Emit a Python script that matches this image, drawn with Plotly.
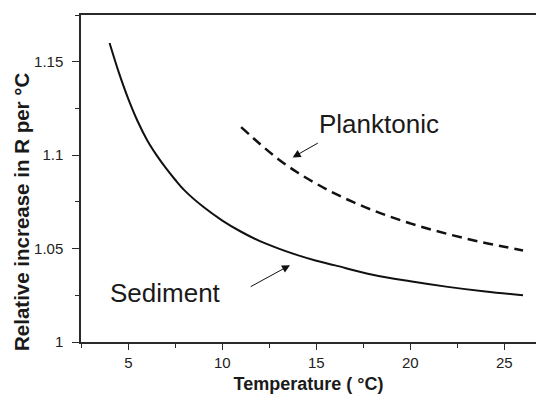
import plotly.graph_objects as go

# Data
sediment_t = [4, 4.5, 5, 5.5, 6, 6.5, 7, 7.5, 8, 9, 10, 11, 12, 13, 14, 15, 16, 18, 20, 22, 24, 26]
sediment_r = [1.160, 1.144, 1.130, 1.118, 1.108, 1.100, 1.093, 1.0867, 1.081, 1.0722, 1.065,
              1.059, 1.054, 1.050, 1.0465, 1.0435, 1.041, 1.036, 1.0325, 1.0295, 1.027, 1.025]

plank_t = [11, 12, 13, 14, 15, 16, 17, 18, 19, 20, 21, 22, 23, 24, 25, 26]
plank_r = [1.115, 1.106, 1.0977, 1.0907, 1.0847, 1.0794, 1.0747, 1.0705, 1.0668, 1.0635,
           1.0605, 1.0578, 1.0553, 1.053, 1.051, 1.049]

x_ticks = [5, 10, 15, 20, 25]
y_ticks = [1, 1.05, 1.1, 1.15]
y_labels = ["1", "1.05", "1.1", "1.15"]

FONT = "Liberation Sans, Arial, sans-serif"
AX = "#2a2a2a"

fig = go.Figure()
fig.add_trace(go.Scatter(x=sediment_t, y=sediment_r, mode="lines",
                         line=dict(color="#111111", width=2, shape="spline"),
                         showlegend=False, hoverinfo="skip"))
fig.add_trace(go.Scatter(x=plank_t, y=plank_r, mode="lines",
                         line=dict(color="#111111", width=2.5, shape="spline", dash="10px,6px"),
                         showlegend=False, hoverinfo="skip"))

# text labels
fig.add_annotation(x=18.33, y=1.1167, xref="x", yref="y", text="Planktonic",
                   showarrow=False, font=dict(family=FONT, size=26, color="#1a1a1a"))
fig.add_annotation(x=6.95, y=1.0261, xref="x", yref="y", text="Sediment",
                   showarrow=False, font=dict(family=FONT, size=26, color="#1a1a1a"))
# arrows
fig.add_annotation(x=13.74, y=1.0988, ax=15.16, ay=1.1069, xref="x", yref="y",
                   axref="x", ayref="y", text="", showarrow=True, arrowhead=2,
                   arrowsize=1.6, arrowwidth=1, arrowcolor="#111111", standoff=0)
fig.add_annotation(x=13.6, y=1.0411, ax=11.43, ay=1.0292, xref="x", yref="y",
                   axref="x", ayref="y", text="", showarrow=True, arrowhead=2,
                   arrowsize=1.6, arrowwidth=1, arrowcolor="#111111", standoff=0)

plot_h = 394 - 15 - 52
plot_w = 537 - 81 - 1
# y-axis title as annotation (centre at pixel x=21, y=212)
fig.add_annotation(x=(21 - 81) / plot_w, y=(394 - 52 - 212) / plot_h, xref="paper", yref="paper",
                   xanchor="center", yanchor="middle",
                   text="<b>Relative increase in R per °C</b>",
                   showarrow=False, textangle=-90, font=dict(family=FONT, size=20.5, color="#1a1a1a"))

fig.update_layout(
    width=537, height=394,
    margin=dict(l=81, r=1, t=15, b=52),
    paper_bgcolor="white", plot_bgcolor="white",
    font=dict(family=FONT, size=15, color="#222222"),
    xaxis=dict(range=[2.48, 26.69], tickvals=x_ticks, ticks="outside", ticklen=6,
               tickcolor=AX, tickwidth=1, showline=True, linecolor=AX, linewidth=1.5,
               mirror=True, showgrid=False, zeroline=False,
               minor=dict(dtick=2.5, tick0=0, ticks="outside", ticklen=4, tickcolor=AX),
               title=dict(text="<b>Temperature ( °C)</b>", font=dict(family=FONT, size=18, color="#1a1a1a"),
                          standoff=10),
               tickfont=dict(family=FONT, size=15, color="#222222")),
    yaxis=dict(range=[1, 1.175], tickvals=y_ticks, ticktext=y_labels, ticks="outside", ticklen=7,
               tickcolor=AX, tickwidth=1, showline=True, linecolor=AX, linewidth=1.5,
               mirror=False, showgrid=False, zeroline=False,
               minor=dict(dtick=0.025, tick0=1, ticks="outside", ticklen=4, tickcolor=AX),
               ticklabelstandoff=6,
               tickfont=dict(family=FONT, size=15, color="#222222")),
)

fig.write_html("out.html")
